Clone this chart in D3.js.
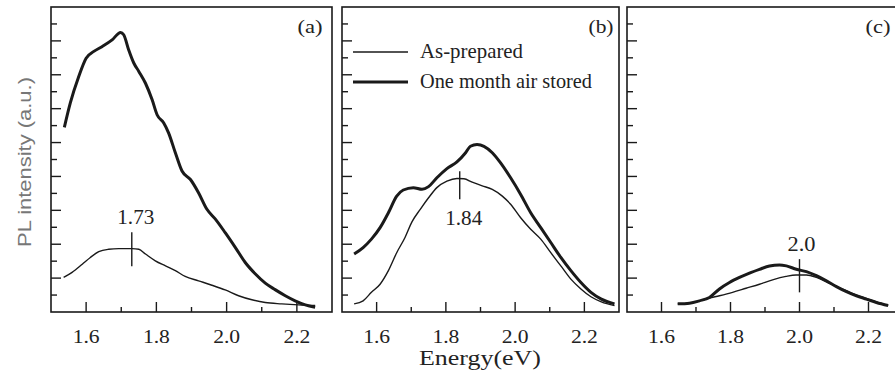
<!DOCTYPE html>
<html><head><meta charset="utf-8">
<script src="https://cdn.jsdelivr.net/npm/d3@7"></script>
<style>body{margin:0;background:#fff}svg{display:block}</style>
</head><body><svg id="c" width="895" height="377"></svg>
<script>
// ---- data ----
const panelLabels = ["(a)", "(b)", "(c)"];
const xTicks = [1.6, 1.8, 2.0, 2.2];
const xTickLabels = ["1.6", "1.8", "2.0", "2.2"];
const seriesNames = ["As-prepared", "One month air stored"];
const peakEnergy = [1.73, 1.84, 2.0];
const peakLabels = ["1.73", "1.84", "2.0"];
const peakMarkLow = [1.35, 3.33, 0.58];
const peakMarkHigh = [2.35, 4.15, 1.56];

const aAsPrepared = [[1.536,1.02],[1.56,1.17],[1.589,1.41],[1.612,1.61],[1.636,1.78],[1.664,1.85],[1.693,1.87],[1.731,1.87],[1.75,1.85],[1.769,1.71],[1.797,1.51],[1.826,1.36],[1.854,1.22],[1.882,1.05],[1.92,0.92],[1.958,0.79],[1.996,0.65],[2.034,0.48],[2.072,0.36],[2.11,0.28],[2.157,0.24],[2.205,0.21],[2.252,0.19]];
const aAirStored = [[1.538,5.45],[1.555,6.17],[1.579,6.95],[1.6,7.49],[1.622,7.69],[1.645,7.83],[1.674,8.03],[1.698,8.25],[1.707,8.18],[1.721,7.74],[1.736,7.34],[1.75,7.10],[1.769,6.75],[1.788,6.26],[1.802,5.82],[1.821,5.58],[1.835,5.28],[1.854,4.70],[1.873,4.16],[1.897,3.91],[1.92,3.52],[1.944,3.03],[1.968,2.74],[1.996,2.34],[2.025,1.90],[2.053,1.46],[2.082,1.12],[2.11,0.85],[2.138,0.66],[2.167,0.48],[2.195,0.33],[2.224,0.21],[2.252,0.14]];
const bAsPrepared = [[1.535,0.24],[1.561,0.33],[1.585,0.58],[1.61,0.82],[1.634,1.22],[1.658,1.75],[1.682,2.20],[1.702,2.66],[1.726,3.03],[1.75,3.37],[1.774,3.67],[1.803,3.86],[1.832,3.94],[1.852,3.93],[1.876,3.83],[1.905,3.72],[1.934,3.62],[1.963,3.42],[1.987,3.18],[2.016,2.78],[2.045,2.44],[2.074,2.15],[2.103,1.75],[2.132,1.36],[2.161,0.97],[2.19,0.68],[2.219,0.45],[2.249,0.30],[2.287,0.19]];
const bAirStored = [[1.535,1.71],[1.561,1.90],[1.585,2.15],[1.61,2.49],[1.634,2.93],[1.658,3.42],[1.677,3.60],[1.706,3.67],[1.731,3.62],[1.75,3.70],[1.774,3.96],[1.803,4.23],[1.832,4.43],[1.857,4.70],[1.871,4.89],[1.89,4.94],[1.91,4.89],[1.934,4.70],[1.958,4.40],[1.987,3.96],[2.016,3.47],[2.045,2.93],[2.074,2.49],[2.103,2.05],[2.132,1.61],[2.161,1.22],[2.19,0.87],[2.219,0.58],[2.249,0.38],[2.287,0.24]];
const cAsPrepared = [[1.647,0.24],[1.681,0.26],[1.71,0.33],[1.739,0.41],[1.768,0.48],[1.806,0.58],[1.845,0.70],[1.884,0.82],[1.922,0.95],[1.961,1.05],[1.99,1.09],[2.02,1.09],[2.049,1.02],[2.078,0.89],[2.107,0.75],[2.136,0.63],[2.165,0.50],[2.194,0.40],[2.223,0.30],[2.257,0.19]];
const cAirStored = [[1.647,0.24],[1.681,0.26],[1.71,0.33],[1.739,0.43],[1.768,0.68],[1.797,0.87],[1.826,1.02],[1.855,1.15],[1.884,1.26],[1.913,1.36],[1.942,1.39],[1.962,1.36],[1.991,1.26],[2.02,1.19],[2.049,1.07],[2.078,0.92],[2.107,0.75],[2.136,0.60],[2.165,0.48],[2.194,0.38],[2.223,0.28],[2.257,0.19]];

const thinSeries = [aAsPrepared, bAsPrepared, cAsPrepared];
const thickSeries = [aAirStored, bAirStored, cAirStored];

// ---- layout ----
const svg = d3.select("#c");
const plotTop = 7, plotBottom = 312;
const panelX = [[51, 332], [342, 619], [627, 903]];
const y = d3.scaleLinear().domain([0, 9]).range([plotBottom, plotTop]);
const ink = "#1a1a1a";
const serif = "'Liberation Serif','Times New Roman',serif";

panelX.forEach((px, i) => {
  const x = d3.scaleLinear().domain([1.5, 2.3]).range(px);
  const g = svg.append("g");
  g.append("rect").attr("x", px[0]).attr("y", plotTop).attr("width", px[1]-px[0]).attr("height", plotBottom-plotTop)
    .attr("fill", "none").attr("stroke", ink).attr("stroke-width", 1.6);
  d3.range(1, 18).forEach(k => {
    const v = k / 2, major = k % 2 === 0;
    g.append("line").attr("x1", px[0]).attr("x2", px[0] + (major ? 10 : 6))
      .attr("y1", y(v)).attr("y2", y(v)).attr("stroke", ink).attr("stroke-width", 1.4);
  });
  d3.range(16, 23).forEach(k => {
    const v = k / 10, major = k % 2 === 0;
    g.append("line").attr("x1", x(v)).attr("x2", x(v))
      .attr("y1", plotBottom).attr("y2", plotBottom - (major ? 10 : 5)).attr("stroke", ink).attr("stroke-width", 1.4);
  });
  xTicks.forEach((t, j) => {
    g.append("text").attr("x", x(t)).attr("y", 343).attr("text-anchor", "middle")
      .attr("font-family", serif).attr("font-size", 19).attr("fill", "#222")
      .attr("textLength", 27).attr("lengthAdjust", "spacingAndGlyphs").text(xTickLabels[j]);
  });
  g.append("text").attr("x", px[0] + (i === 2 ? 251 : 259)).attr("y", 33).attr("text-anchor", "middle")
    .attr("font-family", serif).attr("font-size", 19).attr("fill", "#222")
    .attr("textLength", 25).attr("lengthAdjust", "spacingAndGlyphs").text(panelLabels[i]);
  const line = d3.line().x(d => x(d[0])).y(d => y(d[1])).curve(d3.curveMonotoneX);
  g.append("path").attr("d", line(thinSeries[i])).attr("fill", "none").attr("stroke", ink).attr("stroke-width", 1.4);
  g.append("path").attr("d", line(thickSeries[i])).attr("fill", "none").attr("stroke", ink).attr("stroke-width", 3)
    .attr("stroke-linejoin", "round");
  const pxp = x(peakEnergy[i]);
  g.append("line").attr("x1", pxp).attr("x2", pxp).attr("y1", y(peakMarkLow[i])).attr("y2", y(peakMarkHigh[i]))
    .attr("stroke", ink).attr("stroke-width", 1.4);
  const lblY = i === 1 ? y(peakMarkLow[i]) + 26 : y(peakMarkHigh[i]) - 8;
  g.append("text").attr("x", pxp + (i === 2 ? 2 : 4)).attr("y", lblY).attr("text-anchor", "middle")
    .attr("font-family", serif).attr("font-size", 20).attr("fill", "#222")
    .attr("textLength", i === 2 ? 28 : 37).attr("lengthAdjust", "spacingAndGlyphs").text(peakLabels[i]);
});

const legY = [52, 82], legW = [1.4, 3], legTextY = [58, 88], legLen = [103, 172];
seriesNames.forEach((s, j) => {
  svg.append("line").attr("x1", 353).attr("x2", 408).attr("y1", legY[j]).attr("y2", legY[j])
    .attr("stroke", ink).attr("stroke-width", legW[j]);
  svg.append("text").attr("x", 420).attr("y", legTextY[j]).attr("font-family", serif).attr("font-size", 21)
    .attr("fill", "#222").attr("textLength", legLen[j]).attr("lengthAdjust", "spacingAndGlyphs").text(s);
});

svg.append("text").attr("x", 480).attr("y", 365).attr("text-anchor", "middle")
  .attr("font-family", serif).attr("font-size", 21).attr("fill", "#222")
  .attr("textLength", 122).attr("lengthAdjust", "spacingAndGlyphs").text("Energy(eV)");
svg.append("text").attr("transform", "translate(31,162) rotate(-90)").attr("text-anchor", "middle")
  .attr("font-family", "'Liberation Sans',Arial,sans-serif").attr("font-size", 18).attr("fill", "#777")
  .attr("textLength", 170).attr("lengthAdjust", "spacingAndGlyphs").text("PL intensity (a.u.)");
</script></body></html>
